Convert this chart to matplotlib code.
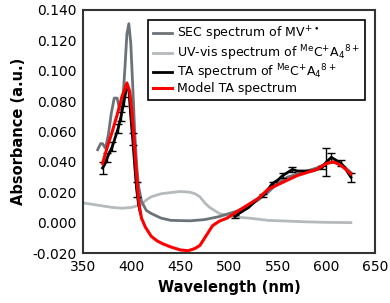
import numpy as np
import matplotlib
matplotlib.use("Agg")
import matplotlib.pyplot as plt

plt.rcParams['font.family'] = ['DejaVu Sans']
plt.rcParams['mathtext.fontset'] = 'dejavusans'

# SEC spectrum of MV+.
sec_x = [365, 368, 370, 373, 376, 379, 382, 385, 387, 389, 391, 393, 395, 397, 399, 401, 403, 405,
         407, 410, 415, 420, 430, 440, 460, 475, 490, 500, 510, 520, 530, 540, 550, 560, 570, 580,
         590, 600, 610, 618, 625]
sec_y = [0.048, 0.052, 0.052, 0.049, 0.058, 0.072, 0.082, 0.082, 0.076, 0.074, 0.082, 0.102, 0.124,
         0.131, 0.118, 0.090, 0.060, 0.038, 0.024, 0.014, 0.008, 0.006, 0.003, 0.0015, 0.0012, 0.002,
         0.004, 0.006, 0.008, 0.011, 0.015, 0.020, 0.026, 0.030, 0.032, 0.034, 0.036, 0.039, 0.040,
         0.037, 0.033]

# UV-vis spectrum
uv_x = [350, 360, 370, 380, 390, 400, 410, 415, 420, 430, 440, 450, 460, 465, 470, 475, 480, 485,
        490, 500, 510, 520, 540, 560, 580, 600, 625]
uv_y = [0.013, 0.012, 0.011, 0.010, 0.0095, 0.010, 0.012, 0.015, 0.017, 0.019, 0.0198, 0.0205, 0.020,
        0.019, 0.017, 0.013, 0.010, 0.008, 0.006, 0.0045, 0.0035, 0.003, 0.0015, 0.001, 0.0005,
        0.0002, 0.0]

# TA spectrum (two measured windows)
ta1_x = [370, 372, 375, 380, 383, 386, 389, 392, 395, 397, 399, 401, 403, 405, 407, 409]
ta1_y = [0.036, 0.038, 0.043, 0.050, 0.056, 0.062, 0.070, 0.080, 0.090, 0.088, 0.070, 0.055, 0.038,
         0.022, 0.012, 0.006]
ta2_x = [506, 510, 515, 520, 525, 530, 535, 540, 545, 550, 555, 560, 565, 570, 575, 580, 585, 590,
         595, 600, 605, 610, 615, 620, 625]
ta2_y = [0.004, 0.006, 0.008, 0.010, 0.013, 0.016, 0.018, 0.022, 0.026, 0.028, 0.031, 0.033, 0.035,
         0.034, 0.034, 0.034, 0.034, 0.035, 0.036, 0.040, 0.043, 0.041, 0.039, 0.035, 0.030]

# TA error bars (subset of points)
err_x = [370, 375, 380, 386, 389, 392, 401, 405, 506, 535, 545, 555, 565, 595, 600, 605, 615, 625]
err_y = [0.036, 0.043, 0.050, 0.062, 0.070, 0.080, 0.055, 0.022, 0.004, 0.018, 0.026, 0.031, 0.035,
         0.036, 0.040, 0.043, 0.039, 0.030]
err_e = [0.004, 0.003, 0.003, 0.003, 0.003, 0.003, 0.004, 0.005, 0.001, 0.001, 0.001, 0.0015, 0.0015,
         0.001, 0.009, 0.003, 0.002, 0.003]

# Model TA spectrum
mod_x = [370, 375, 380, 385, 390, 395, 398, 400, 402, 404, 406, 408, 410, 414, 420, 426, 432, 440,
         450, 458, 465, 470, 475, 483, 490, 498, 510, 520, 530, 540, 550, 560, 570, 580, 590, 600,
         607, 614, 620, 625]
mod_y = [0.039, 0.050, 0.060, 0.071, 0.083, 0.092, 0.086, 0.074, 0.058, 0.040, 0.022, 0.010, 0.003,
         -0.003, -0.009, -0.012, -0.014, -0.016, -0.018, -0.0185, -0.017, -0.015, -0.010, -0.002,
         0.001, 0.003, 0.008, 0.012, 0.016, 0.022, 0.025, 0.028, 0.031, 0.033, 0.035, 0.039, 0.040,
         0.038, 0.035, 0.032]

labels = [r"SEC spectrum of MV$^{+\bullet}$",
          r"UV-vis spectrum of $^{\mathrm{Me}}$C$^{+}$A$_{4}$$^{8+}$",
          r"TA spectrum of $^{\mathrm{Me}}$C$^{+}$A$_{4}$$^{8+}$",
          "Model TA spectrum"]

fig = plt.figure(figsize=(3.9, 3.03), dpi=100)
ax = fig.add_axes([0.213, 0.165, 0.749, 0.802])

l_uv, = ax.plot(uv_x, uv_y, color='#b5babc', lw=2, zorder=2)
l_sec, = ax.plot(sec_x, sec_y, color='#6c7378', lw=2, zorder=3)
ta_x = ta1_x + [np.nan] + ta2_x
ta_y = ta1_y + [np.nan] + ta2_y
l_ta, = ax.plot(ta_x, ta_y, color='black', lw=2, zorder=4)
ax.errorbar(err_x, err_y, yerr=err_e, fmt='none', ecolor='black', elinewidth=1, capsize=3,
            capthick=1, zorder=4)
l_mod, = ax.plot(mod_x, mod_y, color='#ff0000', lw=2.2, zorder=5)

ax.set_xlim(350, 650)
ax.set_ylim(-0.02, 0.14)
ax.set_xticks(np.arange(350, 651, 50))
ax.set_yticks(np.arange(-0.02, 0.1401, 0.02))
ax.set_yticklabels([f"{v:.3f}" for v in np.arange(-0.02, 0.1401, 0.02)])
ax.tick_params(length=0, labelsize=10, pad=5)
for s in ax.spines.values():
    s.set_color('#333333')
    s.set_linewidth(1.5)

ax.set_xlabel("Wavelength (nm)", fontsize=10.5, fontweight='bold', labelpad=4)
ax.set_ylabel("Absorbance (a.u.)", fontsize=10.5, fontweight='bold', labelpad=4)

leg = ax.legend([l_sec, l_uv, l_ta, l_mod], labels, loc='upper right', fontsize=9,
                labelspacing=0.0, handlelength=1.5, handletextpad=0.4, borderpad=0.4,
                fancybox=False, framealpha=1, edgecolor='black', bbox_to_anchor=(0.985, 0.985))
leg.get_frame().set_linewidth(1.2)

fig.savefig("out.png", dpi=100)
